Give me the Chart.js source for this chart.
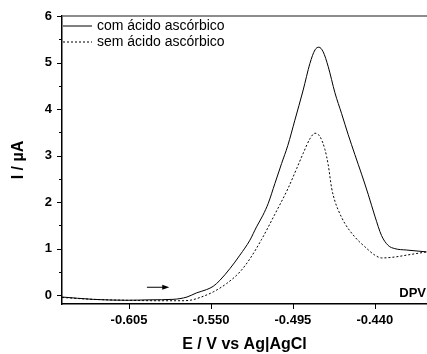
<!DOCTYPE html>
<html>
<head>
<meta charset="utf-8">
<script src="https://cdn.jsdelivr.net/npm/chart.js@4"></script>
<style>
  html, body { margin: 0; padding: 0; background: #fff; }
  #wrap { width: 427px; height: 354px; position: relative; }
</style>
</head>
<body>
<div id="wrap"><canvas id="dpv"></canvas></div>
<script>
// Dados (E em V vs Ag|AgCl, I em µA)
const potencialCom = [-0.6499, -0.6291, -0.6063, -0.5909, -0.5755, -0.5661, -0.5596, -0.5529, -0.5485, -0.5440, -0.5373, -0.5306, -0.5239, -0.5194, -0.5151, -0.5116, -0.5071, -0.5026, -0.4984, -0.4937, -0.4881, -0.4836, -0.4802, -0.4776, -0.4747, -0.4713, -0.4668, -0.4623, -0.4579, -0.4534, -0.4489, -0.4445, -0.4400, -0.4355, -0.4311, -0.4266, -0.4188, -0.4053];
const correnteCom = [-0.04, -0.09, -0.11, -0.10, -0.09, -0.04, 0.05, 0.12, 0.19, 0.32, 0.57, 0.86, 1.18, 1.47, 1.72, 1.97, 2.40, 2.83, 3.22, 3.76, 4.41, 4.98, 5.27, 5.33, 5.23, 4.91, 4.35, 3.90, 3.45, 3.02, 2.60, 2.17, 1.70, 1.28, 1.07, 1.00, 0.97, 0.93];

const potencialSem = [-0.6499, -0.6291, -0.6063, -0.5842, -0.5708, -0.5641, -0.5574, -0.5485, -0.5395, -0.5306, -0.5239, -0.5160, -0.5071, -0.4982, -0.4925, -0.4881, -0.4836, -0.4802, -0.4769, -0.4735, -0.4713, -0.4690, -0.4668, -0.4646, -0.4601, -0.4534, -0.4467, -0.4400, -0.4355, -0.4266, -0.4188, -0.4053];
const correnteSem = [-0.05, -0.09, -0.11, -0.12, -0.12, -0.11, -0.05, 0.07, 0.25, 0.50, 0.78, 1.20, 1.74, 2.30, 2.72, 3.05, 3.36, 3.48, 3.41, 3.13, 2.80, 2.30, 2.02, 1.83, 1.54, 1.25, 1.04, 0.86, 0.80, 0.82, 0.86, 0.93];

const xTicks = [-0.605, -0.550, -0.495, -0.440];
const yTicks = [0, 1, 2, 3, 4, 5, 6];
const legendas = ['com ácido ascórbico', 'sem ácido ascórbico'];

const pares = (xs, ys) => xs.map((x, i) => ({ x, y: ys[i] }));

// Plugin para bordas, ticks, legenda, seta e texto DPV
const extras = {
    id: 'extras',
    afterDraw(chart) {
        const ctx = chart.ctx;
        const area = chart.chartArea;
        const xs = chart.scales.x, ys = chart.scales.y;
        ctx.save();
        // linha superior
        ctx.strokeStyle = '#666';
        ctx.lineWidth = 1.5;
        ctx.beginPath();
        ctx.moveTo(area.left, area.top);
        ctx.lineTo(area.right, area.top);
        ctx.stroke();

        ctx.strokeStyle = '#000';
        ctx.lineWidth = 1;
        // ticks eixo y (maiores e menores)
        for (let v = 0; v <= 6; v += 0.5) {
            const py = Math.round(ys.getPixelForValue(v)) + 0.5;
            const len = Number.isInteger(v) ? 5 : 3;
            ctx.beginPath();
            ctx.moveTo(area.left - len, py);
            ctx.lineTo(area.left, py);
            ctx.stroke();
        }
        // ticks eixo x
        xTicks.forEach(v => {
            const px = Math.round(xs.getPixelForValue(v)) + 0.5;
            ctx.beginPath();
            ctx.moveTo(px, area.bottom);
            ctx.lineTo(px, area.bottom + 5);
            ctx.stroke();
        });

        // legenda
        ctx.font = '14px "Liberation Sans", Arial, sans-serif';
        ctx.textBaseline = 'middle';
        ctx.fillStyle = '#000';
        const ly = [area.top + 10, area.top + 26];
        [[], [2, 2]].forEach((dash, i) => {
            ctx.setLineDash(dash);
            ctx.beginPath();
            ctx.moveTo(area.left + 1, ly[i]);
            ctx.lineTo(area.left + 30, ly[i]);
            ctx.stroke();
            ctx.setLineDash([]);
            ctx.fillText(legendas[i], area.left + 35, ly[i]);
        });

        // seta
        const ax0 = xs.getPixelForValue(-0.593), ax1 = xs.getPixelForValue(-0.578);
        const ay = ys.getPixelForValue(0.17);
        ctx.beginPath();
        ctx.moveTo(ax0, ay);
        ctx.lineTo(ax1 - 4, ay);
        ctx.stroke();
        ctx.beginPath();
        ctx.moveTo(ax1, ay);
        ctx.lineTo(ax1 - 7, ay - 2.5);
        ctx.lineTo(ax1 - 7, ay + 2.5);
        ctx.closePath();
        ctx.fill();

        // DPV
        ctx.font = 'bold 13px "Liberation Sans", Arial, sans-serif';
        ctx.textAlign = 'right';
        ctx.fillText('DPV', area.right - 1, area.bottom - 11);
        ctx.restore();
    }
};

new Chart(document.getElementById('dpv'), {
    type: 'line',
    data: {
        datasets: [
            {
                label: legendas[0],
                data: pares(potencialCom, correnteCom),
                borderColor: '#000',
                borderWidth: 1,
                pointRadius: 0,
                cubicInterpolationMode: 'monotone',
                fill: false
            },
            {
                label: legendas[1],
                data: pares(potencialSem, correnteSem),
                borderColor: '#000',
                borderWidth: 1,
                borderDash: [2, 2],
                pointRadius: 0,
                cubicInterpolationMode: 'monotone',
                fill: false
            }
        ]
    },
    options: {
        responsive: true,
        maintainAspectRatio: false,
        animation: false,
        layout: { padding: { top: 16, left: 0, right: 0, bottom: 0 } },
        plugins: { legend: { display: false }, tooltip: { enabled: false } },
        scales: {
            x: {
                type: 'linear',
                min: -0.650,
                max: -0.405,
                afterBuildTicks: s => { s.ticks = xTicks.map(v => ({ value: v })); },
                afterFit: s => { s.height = 50; },
                grid: { display: false },
                border: { display: true, color: '#000', width: 1.5 },
                ticks: {
                    padding: 1,
                    color: '#000',
                    font: { family: '"Liberation Sans", Arial', size: 13, weight: 'bold' },
                    callback: v => v.toFixed(3)
                },
                title: {
                    display: true,
                    text: 'E / V vs Ag|AgCl',
                    color: '#000',
                    font: { family: '"Liberation Sans", Arial', size: 16, weight: 'bold' },
                    padding: { top: 0, bottom: 0 }
                }
            },
            y: {
                min: -0.19,
                max: 6,
                afterBuildTicks: s => { s.ticks = yTicks.map(v => ({ value: v })); },
                afterFit: s => { s.width = 62; },
                grid: { display: false },
                border: { display: true, color: '#000', width: 1.5 },
                ticks: {
                    padding: 2,
                    color: '#000',
                    font: { family: '"Liberation Sans", Arial', size: 13, weight: 'bold' }
                },
                title: {
                    display: true,
                    text: 'I / µA',
                    color: '#000',
                    font: { family: '"Liberation Sans", Arial', size: 16, weight: 'bold' },
                    padding: { top: 9, bottom: 0 }
                }
            }
        }
    },
    plugins: [extras]
});
</script>
</body>
</html>
